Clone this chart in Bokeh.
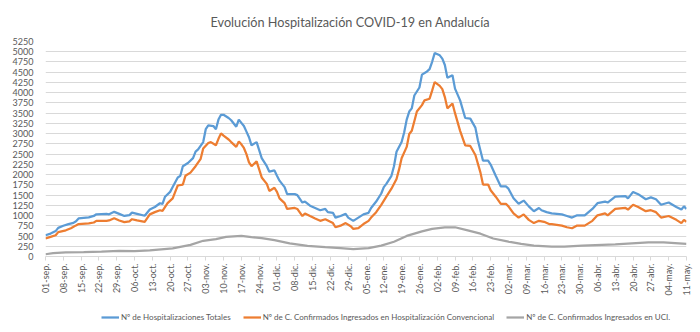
import math
from bokeh.plotting import figure
from bokeh.layouts import column
from bokeh.models import Legend, LegendItem, FixedTicker, Range1d
from bokeh.embed import file_html
from bokeh.resources import INLINE

# day offsets are counted from 01-sep-2020
tick_labels = ["01-sep.", "08-sep.", "15-sep.", "22-sep.", "29-sep.", "06-oct.", "13-oct.", "20-oct.", "27-oct.",
               "03-nov.", "10-nov.", "17-nov.", "24-nov.", "01-dic.", "08-dic.", "15-dic.", "22-dic.", "29-dic.",
               "05-ene.", "12-ene.", "19-ene.", "26-ene.", "02-feb.", "09-feb.", "16-feb.", "23-feb.",
               "02-mar.", "09-mar.", "16-mar.", "23-mar.", "30-mar.", "06-abr.", "13-abr.", "20-abr.", "27-abr.",
               "04-may.", "11-may."]

total_days = [0, 2, 4, 5, 7, 9, 11, 12, 13, 17, 19, 20, 24, 25, 27, 29, 31, 33, 34, 36, 39, 41, 43, 45, 46, 47, 49,
              50, 52, 53, 54, 56, 58, 59, 60, 62, 63, 64, 66, 67, 68, 69, 70, 72, 73, 75, 76, 77, 78, 79, 80, 81, 83,
              84, 85, 87, 88, 90, 91, 92, 94, 95, 98, 99, 101, 102, 104, 106, 108, 110, 111, 113, 114, 116, 118, 119,
              121, 123, 125, 127, 128, 130, 132, 133, 134, 136, 137, 138, 140, 141, 142, 143, 144, 145, 147, 148, 150,
              151, 152, 153, 155, 156, 157, 158, 160, 161, 163, 165, 167, 169, 170, 172, 174, 175, 177, 179, 181, 182,
              184, 186, 188, 190, 192, 194, 195, 197, 199, 203, 205, 207, 209, 212, 215, 217, 220, 221, 224, 228, 229,
              231, 233, 236, 238, 240, 242, 245, 248, 250, 251, 252]
total = [520, 560, 620, 700, 750, 790, 820, 860, 930, 955, 990, 1030, 1040, 1030, 1090, 1040, 990, 1010, 1070, 1040,
         995, 1146, 1209, 1300, 1287, 1460, 1578, 1696, 1930, 1970, 2205, 2284, 2402, 2559, 2614, 2794, 3108, 3202,
         3186, 3108, 3343, 3461, 3461, 3382, 3327, 3170, 3343, 3264, 3185, 3050, 2912, 2715, 2794, 2598, 2401, 2205,
         2071, 2103, 1970, 1852, 1695, 1523, 1523, 1499, 1318, 1342, 1240, 1185, 1130, 1161, 1083, 1067, 949, 988,
         1040, 950, 871, 950, 1028, 1067, 1185, 1342, 1538, 1695, 1773, 1970, 2205, 2558, 2794, 3029, 3343, 3539,
         3617, 3931, 4127, 4441, 4519, 4574, 4755, 4967, 4912, 4833, 4676, 4362, 4425, 4100, 3813, 3382, 3367, 3147,
         2833, 2339, 2339, 2245, 1970, 1710, 1710, 1656, 1420, 1287, 1365, 1224, 1106, 1185, 1130, 1083, 1051, 1028,
         989, 950, 1005, 1005, 1161, 1303, 1342, 1318, 1460, 1475, 1420, 1577, 1522, 1397, 1444, 1397, 1264, 1318,
         1208, 1146, 1224, 1161]

conv_days = [0, 2, 4, 5, 8, 10, 12, 13, 17, 19, 20, 24, 25, 27, 29, 31, 33, 34, 36, 39, 41, 43, 45, 46, 48, 50, 51,
             52, 54, 55, 57, 59, 61, 62, 64, 65, 67, 68, 69, 70, 72, 73, 75, 76, 77, 78, 79, 80, 81, 83, 84, 85, 87,
             88, 90, 91, 92, 94, 95, 98, 99, 101, 102, 104, 106, 108, 110, 112, 113, 114, 116, 118, 120, 121, 123,
             125, 127, 128, 130, 132, 134, 136, 138, 139, 140, 142, 143, 144, 145, 146, 148, 149, 151, 152, 153, 155,
             156, 157, 158, 160, 161, 163, 165, 167, 169, 171, 172, 174, 175, 177, 179, 181, 182, 184, 186, 188, 190,
             192, 194, 196, 198, 199, 203, 205, 207, 209, 212, 215, 217, 220, 221, 224, 228, 229, 231, 233, 236, 238,
             240, 242, 245, 248, 250, 251, 252]
conv = [440, 480, 518, 596, 640, 690, 760, 792, 808, 830, 871, 871, 880, 934, 880, 840, 860, 910, 880, 848, 1028,
        1083, 1130, 1114, 1302, 1420, 1578, 1734, 1757, 1970, 2048, 2205, 2386, 2637, 2770, 2794, 2716, 2873, 3006,
        2951, 2857, 2794, 2677, 2810, 2740, 2650, 2500, 2300, 2205, 2323, 2126, 1930, 1773, 1601, 1679, 1577, 1420,
        1303, 1161, 1185, 1161, 988, 1051, 988, 926, 871, 910, 847, 816, 714, 753, 816, 738, 675, 691, 793, 871, 950,
        1083, 1263, 1460, 1656, 1892, 2127, 2401, 2676, 2990, 3069, 3304, 3539, 3696, 3814, 3853, 4049, 4260, 4166,
        4088, 3892, 3617, 3735, 3500, 3068, 2715, 2700, 2480, 2048, 1757, 1757, 1617, 1460, 1287, 1287, 1224, 1051,
        949, 1028, 894, 816, 871, 847, 793, 793, 754, 714, 690, 754, 754, 871, 1005, 1051, 1005, 1161, 1185, 1146,
        1264, 1208, 1106, 1130, 1083, 950, 989, 895, 816, 895, 848]

uci_days = [0, 3, 8, 15, 22, 29, 35, 41, 50, 57, 62, 67, 71, 77, 81, 85, 90, 96, 103, 110, 116, 121, 127, 132, 137,
            142, 148, 152, 157, 161, 166, 171, 176, 182, 187, 192, 199, 204, 211, 224, 237, 243, 252]
uci = [55, 80, 100, 108, 118, 135, 132, 150, 200, 285, 384, 423, 480, 505, 475, 450, 400, 322, 259, 228, 204, 181,
       204, 267, 361, 502, 612, 675, 714, 714, 636, 557, 440, 361, 306, 267, 243, 243, 267, 298, 345, 345, 306]

series_names = ["Nº de Hospitalizaciones Totales",
                "Nº de C. Confirmados Ingresados en Hospitalización Convencional",
                "Nº de C. Confirmados Ingresados en UCI."]
series_colors = ["#5b9bd5", "#ed7d31", "#a5a5a5"]
series_data = [(total_days, total), (conv_days, conv), (uci_days, uci)]

y_ticks = list(range(0, 5251, 250))
tick_days = [7 * i for i in range(len(tick_labels))]

FONT = "Lato"
GREY_TXT = "#595959"
W = 700
H_MAIN, H_LEG = 300, 32
LEFT, RIGHT, TOP, BOTTOM = 45, 14, 39, 44

p = figure(width=W, height=H_MAIN, output_backend="svg", toolbar_location=None,
           x_range=Range1d(0, 252), y_range=Range1d(0, 5250),
           min_border_left=LEFT, min_border_right=RIGHT, min_border_top=TOP, min_border_bottom=BOTTOM)
p.outline_line_color = None
p.background_fill_color = "white"
p.border_fill_color = "white"

p.title.text = "Evolución Hospitalización COVID-19 en Andalucía"
p.title.align = "left"
p.title.offset = 165
p.title.standoff = 23
p.title.text_font = FONT
p.title.text_font_size = "12.7px"
p.title.text_font_style = "normal"
p.title.text_color = GREY_TXT

for (xs, ys), col in zip(series_data, series_colors):
    p.line(xs, ys, line_color=col, line_width=2.25)

p.yaxis.ticker = FixedTicker(ticks=y_ticks)
p.yaxis.axis_line_color = None
p.yaxis.major_tick_line_color = None
p.yaxis.minor_tick_line_color = None
p.yaxis.major_label_text_font = FONT
p.yaxis.major_label_text_font_size = "9px"
p.yaxis.major_label_text_color = GREY_TXT
p.yaxis.major_label_standoff = 6

p.xaxis.ticker = FixedTicker(ticks=tick_days)
p.xaxis.major_label_overrides = {d: lab for d, lab in zip(tick_days, tick_labels)}
p.xaxis.major_label_orientation = math.pi / 2
p.xaxis.axis_line_color = "#d9d9d9"
p.xaxis.major_tick_line_color = "#d9d9d9"
p.xaxis.major_tick_out = 4
p.xaxis.major_tick_in = 0
p.xaxis.minor_tick_line_color = None
p.xaxis.major_label_text_font = FONT
p.xaxis.major_label_text_font_size = "9px"
p.xaxis.major_label_text_color = GREY_TXT
p.xaxis.major_label_standoff = 3

p.xgrid.grid_line_color = None
p.ygrid.grid_line_color = "#d9d9d9"
p.ygrid.grid_line_width = 1

# legend strip below the chart (its lines fall outside this strip's ranges, only the legend shows)
q = figure(width=W, height=H_LEG, output_backend="svg", toolbar_location=None,
           x_range=Range1d(0, 1), y_range=Range1d(-2, -1),
           x_axis_location=None, y_axis_location=None,
           min_border_left=0, min_border_right=0, min_border_top=0, min_border_bottom=0)
q.grid.visible = False
q.outline_line_color = None
q.background_fill_color = "white"
q.border_fill_color = "white"
items = []
for name, col, (xs, ys) in zip(series_names, series_colors, series_data):
    r = q.line(xs, ys, line_color=col, line_width=2.25)
    items.append(LegendItem(label=name, renderers=[r]))

legend = Legend(items=items, orientation="horizontal", location=(56, 10))
legend.label_text_font = FONT
legend.label_text_font_size = "8px"
legend.label_text_color = GREY_TXT
legend.glyph_width = 18
legend.glyph_height = 10
legend.spacing = 12
legend.padding = 2
legend.margin = 0
legend.label_standoff = 2
legend.border_line_color = None
legend.background_fill_alpha = 0
q.add_layout(legend)

layout = column(p, q, spacing=0)
open("out.html", "w").write(file_html(layout, INLINE))
